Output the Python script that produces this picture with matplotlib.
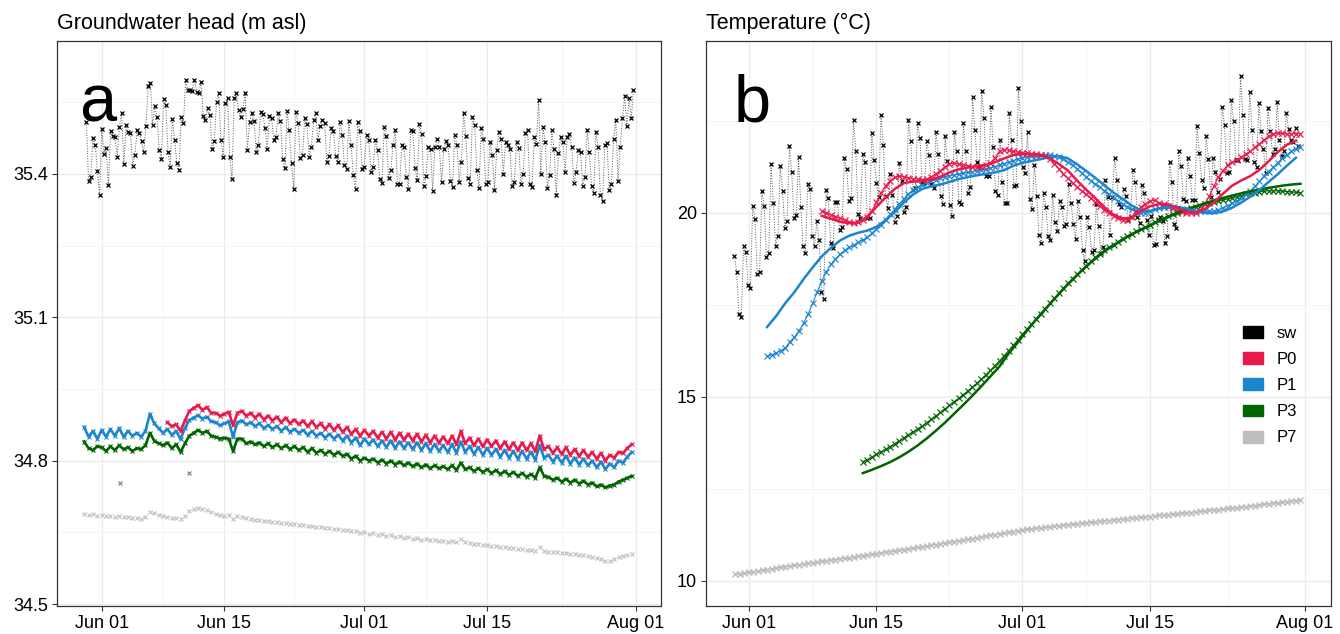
import pandas as pd
import matplotlib
matplotlib.use("Agg")
import matplotlib.pyplot as plt
import matplotlib.dates as mdates
from matplotlib.patches import Patch

plt.rcParams["font.family"] = ["Liberation Sans", "DejaVu Sans"]

# ── Colours ───────────────────────────────────────────────────────────────────
COLORS = {"sw": "black", "P0": "#E8194B", "P1": "#1B85CF", "P3": "#006400", "P7": "#BEBEBE"}
LEGEND_KEYS = ["sw", "P0", "P1", "P3", "P7"]

# ── Data: groundwater head (m asl) ────────────────────────────────────────────
# surface water, 6-hourly
sw_head = [
    35.508, 35.386, 35.393, 35.476, 35.461, 35.407, 35.356, 35.493, 35.441, 35.454,
    35.376, 35.490, 35.479, 35.478, 35.436, 35.499, 35.527, 35.421, 35.502, 35.488,
    35.485, 35.417, 35.440, 35.491, 35.486, 35.468, 35.445, 35.500, 35.583, 35.590,
    35.502, 35.541, 35.520, 35.450, 35.432, 35.556, 35.544, 35.446, 35.415, 35.515,
    35.471, 35.422, 35.408, 35.520, 35.506, 35.597, 35.576, 35.576, 35.574, 35.597,
    35.572, 35.569, 35.593, 35.521, 35.512, 35.537, 35.523, 35.452, 35.469, 35.551,
    35.569, 35.471, 35.436, 35.548, 35.558, 35.436, 35.389, 35.559, 35.569, 35.534,
    35.519, 35.535, 35.570, 35.449, 35.509, 35.527, 35.510, 35.446, 35.461, 35.530,
    35.526, 35.496, 35.452, 35.521, 35.516, 35.471, 35.478, 35.527, 35.510, 35.431,
    35.413, 35.532, 35.491, 35.422, 35.368, 35.530, 35.507, 35.433, 35.440, 35.516,
    35.505, 35.436, 35.456, 35.512, 35.527, 35.471, 35.500, 35.513, 35.506, 35.425,
    35.438, 35.497, 35.489, 35.438, 35.424, 35.509, 35.481, 35.418, 35.411, 35.510,
    35.461, 35.397, 35.368, 35.509, 35.489, 35.410, 35.415, 35.482, 35.470, 35.404,
    35.415, 35.470, 35.450, 35.389, 35.380, 35.498, 35.479, 35.391, 35.408, 35.461,
    35.491, 35.379, 35.379, 35.461, 35.456, 35.394, 35.368, 35.491, 35.489, 35.413,
    35.387, 35.504, 35.484, 35.374, 35.396, 35.456, 35.453, 35.365, 35.456, 35.473,
    35.456, 35.382, 35.453, 35.469, 35.460, 35.386, 35.372, 35.482, 35.461, 35.382,
    35.425, 35.527, 35.479, 35.391, 35.379, 35.520, 35.502, 35.408, 35.371, 35.497,
    35.474, 35.379, 35.382, 35.466, 35.440, 35.367, 35.449, 35.488, 35.474, 35.399,
    35.467, 35.460, 35.453, 35.374, 35.383, 35.466, 35.454, 35.378, 35.399, 35.485,
    35.492, 35.378, 35.372, 35.477, 35.463, 35.555, 35.399, 35.498, 35.466, 35.371,
    35.397, 35.491, 35.452, 35.356, 35.443, 35.477, 35.467, 35.403, 35.477, 35.484,
    35.457, 35.380, 35.404, 35.449, 35.445, 35.375, 35.394, 35.492, 35.445, 35.374,
    35.361, 35.488, 35.456, 35.356, 35.343, 35.460, 35.464, 35.367, 35.379, 35.473,
    35.513, 35.386, 35.457, 35.517, 35.562, 35.500, 35.558, 35.516, 35.576,
]
sw_head_span = ("2021-05-30 06:00", "2021-07-31 17:00")

# piezometers, twice daily
p0_head_start = "2021-06-08 12:00"
p0_head = [
    34.880,
    34.872, 34.876, 34.862, 34.884, 34.904, 34.910, 34.916, 34.906, 34.912, 34.900,
    34.900, 34.894, 34.898, 34.902, 34.874, 34.900, 34.904, 34.894, 34.900, 34.890,
    34.898, 34.886, 34.894, 34.884, 34.892, 34.880, 34.890, 34.878, 34.886, 34.876,
    34.884, 34.872, 34.882, 34.870, 34.878, 34.866, 34.876, 34.864, 34.874, 34.860,
    34.870, 34.856, 34.866, 34.852, 34.864, 34.852, 34.862, 34.848, 34.860, 34.846,
    34.860, 34.844, 34.858, 34.844, 34.856, 34.842, 34.856, 34.840, 34.854, 34.838,
    34.852, 34.838, 34.850, 34.836, 34.852, 34.834, 34.862, 34.836, 34.848, 34.832,
    34.846, 34.830, 34.844, 34.830, 34.842, 34.826, 34.840, 34.824, 34.838, 34.822,
    34.838, 34.822, 34.836, 34.820, 34.852, 34.824, 34.830, 34.816, 34.828, 34.814,
    34.828, 34.812, 34.824, 34.810, 34.822, 34.808, 34.818, 34.804, 34.816, 34.800,
    34.812, 34.806, 34.818, 34.816, 34.826, 34.834,
]
p1_head_start = "2021-05-30 00:00"
p1_head = [
    34.870, 34.850, 34.862, 34.846, 34.864, 34.850, 34.866, 34.852, 34.868, 34.850,
    34.862, 34.852, 34.858, 34.850, 34.862, 34.898, 34.878, 34.868, 34.858, 34.866,
    34.854, 34.862, 34.845, 34.868, 34.885, 34.890, 34.895, 34.888, 34.892, 34.882,
    34.880, 34.874, 34.878, 34.882, 34.850, 34.880, 34.884, 34.876, 34.880, 34.872,
    34.878, 34.868, 34.874, 34.866, 34.872, 34.862, 34.870, 34.860, 34.866, 34.858,
    34.864, 34.854, 34.862, 34.852, 34.858, 34.848, 34.856, 34.846, 34.854, 34.842,
    34.852, 34.838, 34.848, 34.832, 34.846, 34.834, 34.844, 34.830, 34.842, 34.828,
    34.842, 34.826, 34.840, 34.826, 34.838, 34.824, 34.838, 34.822, 34.836, 34.820,
    34.834, 34.820, 34.832, 34.818, 34.834, 34.816, 34.840, 34.818, 34.830, 34.814,
    34.828, 34.812, 34.826, 34.812, 34.824, 34.808, 34.822, 34.806, 34.820, 34.804,
    34.820, 34.804, 34.818, 34.802, 34.832, 34.806, 34.812, 34.798, 34.810, 34.796,
    34.810, 34.794, 34.806, 34.792, 34.804, 34.790, 34.800, 34.786, 34.798, 34.782,
    34.794, 34.786, 34.800, 34.796, 34.808, 34.818,
]
p3_head_start = "2021-05-30 00:00"
p3_head = [
    34.840, 34.826, 34.822, 34.830, 34.828, 34.820, 34.830, 34.822, 34.832, 34.824,
    34.828, 34.820, 34.826, 34.824, 34.832, 34.858, 34.842, 34.836, 34.832, 34.838,
    34.826, 34.834, 34.818, 34.836, 34.852, 34.858, 34.864, 34.858, 34.862, 34.852,
    34.850, 34.846, 34.848, 34.846, 34.820, 34.846, 34.846, 34.836, 34.840, 34.834,
    34.838, 34.830, 34.836, 34.828, 34.834, 34.826, 34.832, 34.824, 34.830, 34.822,
    34.828, 34.818, 34.826, 34.816, 34.822, 34.814, 34.820, 34.812, 34.818, 34.810,
    34.814, 34.804, 34.810, 34.800, 34.806, 34.800, 34.804, 34.796, 34.802, 34.794,
    34.800, 34.792, 34.798, 34.790, 34.796, 34.788, 34.794, 34.786, 34.792, 34.784,
    34.790, 34.784, 34.788, 34.782, 34.790, 34.780, 34.796, 34.782, 34.786, 34.778,
    34.784, 34.776, 34.782, 34.774, 34.780, 34.772, 34.778, 34.770, 34.776, 34.768,
    34.774, 34.766, 34.772, 34.764, 34.786, 34.768, 34.766, 34.760, 34.764, 34.756,
    34.762, 34.754, 34.760, 34.752, 34.758, 34.750, 34.754, 34.746, 34.750, 34.744,
    34.748, 34.750, 34.756, 34.760, 34.764, 34.768,
]
p7_head_start = "2021-05-30 00:00"
p7_head = [
    34.689, 34.686, 34.688, 34.684, 34.686, 34.684, 34.685, 34.683, 34.684, 34.682,
    34.683, 34.680, 34.681, 34.678, 34.682, 34.692, 34.690, 34.686, 34.684, 34.682,
    34.681, 34.680, 34.678, 34.684, 34.694, 34.698, 34.700, 34.698, 34.696, 34.692,
    34.689, 34.686, 34.684, 34.686, 34.678, 34.684, 34.682, 34.680, 34.678, 34.676,
    34.676, 34.674, 34.674, 34.672, 34.672, 34.670, 34.670, 34.668, 34.668, 34.666,
    34.666, 34.664, 34.664, 34.662, 34.662, 34.660, 34.660, 34.658, 34.658, 34.655,
    34.655, 34.652, 34.652, 34.649, 34.650, 34.647, 34.648, 34.645, 34.646, 34.643,
    34.644, 34.641, 34.642, 34.639, 34.640, 34.637, 34.638, 34.635, 34.636, 34.634,
    34.635, 34.632, 34.633, 34.630, 34.632, 34.630, 34.636, 34.629, 34.628, 34.626,
    34.626, 34.624, 34.624, 34.622, 34.622, 34.620, 34.620, 34.618, 34.618, 34.616,
    34.616, 34.614, 34.614, 34.612, 34.620, 34.612, 34.610, 34.608, 34.608, 34.606,
    34.606, 34.604, 34.604, 34.602, 34.602, 34.600, 34.598, 34.596, 34.594, 34.590,
    34.590, 34.594, 34.598, 34.600, 34.602, 34.604,
]
# two stray readings
stray_head_time = ["2021-06-03 01:00", "2021-06-10 22:00"]
stray_head = [34.754, 34.774]

# ── Data: temperature (°C) ────────────────────────────────────────────────────
sw_temp = [
    18.83, 18.39, 17.26, 17.16, 19.10, 18.95, 18.03, 17.95, 20.19, 19.84,
    18.33, 18.40, 20.60, 20.20, 18.79, 18.92, 21.32, 20.28, 19.09, 19.36,
    21.28, 20.60, 19.59, 19.77, 21.83, 21.11, 19.85, 19.93, 21.51, 20.16,
    19.09, 18.90, 20.79, 20.65, 19.38, 19.09, 19.77, 19.26, 17.86, 17.66,
    20.63, 20.41, 19.18, 19.04, 20.29, 20.29, 19.54, 19.61, 21.49, 21.20,
    20.32, 20.40, 22.53, 21.67, 19.96, 19.86, 21.59, 21.37, 19.86, 19.86,
    22.17, 21.44, 20.82, 20.43, 22.66, 21.84, 20.46, 20.14, 21.05, 20.49,
    19.76, 19.92, 21.35, 20.88, 20.02, 20.17, 22.52, 21.95, 20.63, 20.67,
    22.43, 22.03, 20.82, 20.81, 21.94, 21.56, 20.79, 20.68, 22.20, 21.60,
    20.46, 20.24, 22.08, 21.40, 20.22, 19.92, 22.20, 21.68, 20.30, 20.24,
    22.44, 21.68, 20.54, 20.69, 23.16, 22.24, 21.39, 21.24, 23.32, 22.58,
    21.01, 21.00, 22.87, 21.78, 20.59, 20.49, 21.97, 20.83,
    20.26, 20.28, 22.71, 21.97, 20.72, 20.75, 23.39, 22.50, 21.24, 21.08,
    22.21, 20.37, 20.10, 21.31, 20.47, 19.40, 19.18, 20.55, 20.16, 19.36,
    19.26, 20.48, 19.74, 19.52, 20.31, 20.17, 19.65, 19.70, 20.78, 20.26,
    19.70, 19.29, 20.31, 19.90, 18.98, 18.68, 19.90, 19.61, 18.95, 18.98,
    20.24, 19.65, 18.90, 19.07, 20.90, 20.44, 19.40, 20.43, 21.49, 20.90,
    20.24, 20.17, 20.64, 20.47, 19.80, 19.90, 21.17, 20.85, 19.90, 19.72,
    20.77, 20.53, 19.81, 19.39, 19.92, 19.13, 19.15, 19.81, 19.88, 19.77,
    19.18, 19.36, 21.38, 20.85, 19.70, 19.58, 21.69, 21.28, 20.39, 20.31,
    21.49, 20.99, 20.34, 20.35, 22.37, 21.62, 20.90, 20.67, 22.09, 21.46,
    20.43, 21.49, 21.12, 20.58, 20.91, 22.89, 22.39, 21.08, 21.12, 23.07,
    22.49, 21.44, 21.44, 23.72, 22.65, 21.46, 21.44, 23.28, 22.26, 21.39,
    21.26, 22.98, 22.23, 21.73, 21.08, 22.86, 22.23, 21.59, 21.73, 23.00,
    21.97, 21.55, 21.69, 22.71, 22.27, 21.97, 21.93, 22.30, 21.82,
]
sw_temp_span = ("2021-05-30 10:00", "2021-07-31 05:00")

# observed, twice daily
p0_temp_obs_start = "2021-06-09 00:00"
p0_temp_obs = [
    20.05, 20.00, 19.95, 19.90, 19.85, 19.81, 19.76, 19.72, 19.74, 19.80,
    19.88, 20.05, 20.30, 20.55, 20.74, 20.88, 20.97, 21.00, 20.98, 20.95,
    20.93, 20.91, 20.90, 20.92, 20.98, 21.06, 21.15, 21.25, 21.33, 21.35,
    21.32, 21.30, 21.28, 21.26, 21.24, 21.26, 21.30, 21.36, 21.50, 21.68,
    21.72, 21.70, 21.67, 21.65, 21.63, 21.62, 21.61, 21.60, 21.58, 21.55,
    21.46, 21.34, 21.20, 21.06, 20.94, 20.82, 20.70, 20.60, 20.50, 20.40,
    20.29, 20.19, 20.09, 20.00, 19.92, 19.85, 19.81, 19.80, 19.88, 20.04,
    20.16, 20.25, 20.32, 20.34, 20.28, 20.23, 20.18, 20.12, 20.06, 20.03,
    20.00, 19.99, 20.01, 20.08, 20.24, 20.45, 20.72, 20.98, 21.15, 21.30,
    21.38, 21.44, 21.52, 21.60, 21.67, 21.78, 21.88, 21.98, 22.08, 22.15,
    22.16, 22.16, 22.15, 22.15, 22.15, 22.15,
]
p1_temp_obs_start = "2021-06-03 00:00"
p1_temp_obs = [
    16.10, 16.14, 16.20, 16.26, 16.33, 16.50, 16.62, 16.80, 17.00, 17.25,
    17.55, 17.85, 18.15, 18.40, 18.60, 18.75, 18.88, 18.98, 19.06, 19.12,
    19.20, 19.26, 19.34, 19.45, 19.56, 19.68, 19.82, 19.96, 20.10, 20.24,
    20.38, 20.52, 20.62, 20.70, 20.76, 20.82, 20.86, 20.90, 20.94, 20.98,
    21.01, 21.03, 21.05, 21.08, 21.10, 21.12, 21.14, 21.16, 21.19, 21.22,
    21.26, 21.30, 21.34, 21.38, 21.42, 21.46, 21.49, 21.52, 21.54, 21.55,
    21.56, 21.56, 21.56, 21.55, 21.52, 21.46, 21.38, 21.30, 21.20, 21.08,
    20.98, 20.88, 20.78, 20.70, 20.60, 20.50, 20.40, 20.32, 20.24, 20.16,
    20.10, 20.05, 20.01, 20.00, 20.04, 20.10, 20.13, 20.15, 20.17, 20.17,
    20.14, 20.10, 20.08, 20.06, 20.04, 20.04, 20.04, 20.04, 20.05, 20.08,
    20.14, 20.20, 20.26, 20.32, 20.40, 20.50, 20.60, 20.72, 20.86, 21.00,
    21.12, 21.24, 21.36, 21.48, 21.58, 21.67, 21.74, 21.80,
]
p3_temp_obs_start = "2021-06-13 12:00"
p3_temp_obs = [
    13.24, 13.30, 13.37, 13.44, 13.51, 13.58, 13.65, 13.73, 13.81, 13.89,
    13.97, 14.05, 14.13, 14.21, 14.30, 14.39, 14.48, 14.58, 14.67, 14.77,
    14.87, 14.96, 15.06, 15.16, 15.26, 15.37, 15.48, 15.60, 15.72, 15.85,
    15.98, 16.12, 16.26, 16.40, 16.55, 16.70, 16.84, 16.98, 17.12, 17.26,
    17.40, 17.54, 17.68, 17.82, 17.96, 18.09, 18.21, 18.33, 18.45, 18.57,
    18.68, 18.79, 18.89, 18.98, 19.06, 19.14, 19.22, 19.30, 19.37, 19.44,
    19.50, 19.56, 19.62, 19.68, 19.74, 19.80, 19.86, 19.91, 19.96, 20.00,
    20.04, 20.08, 20.12, 20.16, 20.20, 20.23, 20.26, 20.29, 20.32, 20.35,
    20.38, 20.41, 20.44, 20.47, 20.50, 20.53, 20.55, 20.57, 20.59, 20.60,
    20.60, 20.60, 20.59, 20.58, 20.57, 20.56, 20.55,
]
p7_temp_start = "2021-05-30 12:00"
p7_temp = [
    10.19, 10.20, 10.22, 10.24, 10.25, 10.27, 10.29, 10.31, 10.33, 10.35,
    10.37, 10.39, 10.41, 10.43, 10.44, 10.46, 10.48, 10.50, 10.51, 10.53,
    10.55, 10.57, 10.58, 10.60, 10.62, 10.63, 10.65, 10.67, 10.69, 10.71,
    10.72, 10.74, 10.76, 10.78, 10.80, 10.82, 10.83, 10.85, 10.87, 10.89,
    10.91, 10.93, 10.95, 10.97, 10.99, 11.01, 11.03, 11.05, 11.07, 11.09,
    11.11, 11.13, 11.15, 11.17, 11.19, 11.22, 11.24, 11.26, 11.28, 11.30,
    11.32, 11.34, 11.36, 11.38, 11.40, 11.41, 11.43, 11.44, 11.46, 11.47,
    11.49, 11.50, 11.51, 11.53, 11.54, 11.55, 11.57, 11.58, 11.59, 11.61,
    11.62, 11.63, 11.64, 11.66, 11.67, 11.68, 11.69, 11.71, 11.72, 11.73,
    11.74, 11.75, 11.77, 11.78, 11.79, 11.80, 11.81, 11.83, 11.84, 11.85,
    11.86, 11.88, 11.89, 11.90, 11.92, 11.93, 11.94, 11.95, 11.97, 11.98,
    11.99, 12.01, 12.02, 12.03, 12.05, 12.06, 12.08, 12.09, 12.11, 12.12,
    12.14, 12.15, 12.17, 12.18, 12.20,
]

# simulated, daily
p0_temp_sim_start = "2021-06-09 00:00"
p0_temp_sim = [
    19.92, 19.84, 19.76, 19.72, 19.74, 19.90, 20.17, 20.42, 20.65, 20.81,
    20.85, 20.86, 20.90, 20.98, 21.10, 21.18, 21.23, 21.28, 21.30, 21.38,
    21.48, 21.57, 21.60, 21.60, 21.57, 21.48, 21.33, 21.15, 20.88, 20.63,
    20.40, 20.15, 19.95, 19.85, 19.86, 20.05, 20.18, 20.24, 20.23, 20.14,
    20.04, 20.00, 20.10, 20.28, 20.52, 20.74, 20.88, 21.00, 21.17, 21.40,
    21.65, 21.85, 21.96,
]
p1_temp_sim_start = "2021-06-03 00:00"
p1_temp_sim = [
    16.90, 17.20, 17.55, 17.85, 18.20, 18.52, 18.82, 19.05, 19.25, 19.38,
    19.46, 19.52, 19.62, 19.80, 20.02, 20.28, 20.50, 20.65, 20.72, 20.77,
    20.84, 20.92, 20.97, 21.02, 21.06, 21.10, 21.16, 21.28, 21.36, 21.41,
    21.46, 21.52, 21.54, 21.48, 21.32, 21.14, 20.95, 20.75, 20.55, 20.38,
    20.20, 20.07, 20.05, 20.12, 20.16, 20.16, 20.12, 20.04, 20.00, 19.99,
    20.04, 20.14, 20.28, 20.44, 20.62, 20.84, 21.05, 21.28, 21.50,
]
p3_temp_sim_start = "2021-06-13 12:00"
p3_temp_sim = [
    12.93, 13.02, 13.12, 13.23, 13.36, 13.51, 13.68, 13.87, 14.08, 14.30,
    14.54, 14.78, 15.03, 15.29, 15.56, 15.83, 16.18, 16.48, 16.80, 17.10,
    17.38, 17.66, 17.93, 18.19, 18.43, 18.65, 18.86, 19.04, 19.20, 19.35,
    19.48, 19.60, 19.72, 19.84, 19.95, 20.05, 20.14, 20.22, 20.30, 20.37,
    20.44, 20.50, 20.56, 20.61, 20.66, 20.70, 20.74, 20.77, 20.79,
]

# ── Axis settings ─────────────────────────────────────────────────────────────
MAJOR_DATES = ["2021-06-01", "2021-06-15", "2021-07-01", "2021-07-15", "2021-08-01"]
MINOR_DATES = ["2021-06-08", "2021-06-23", "2021-07-08", "2021-07-23 12:00"]
DAY0 = pd.Timestamp("2021-06-01")


def span_times(span, n):
    return pd.date_range(span[0], span[1], periods=n)


def step_times(start, n, freq):
    return pd.date_range(start, periods=n, freq=freq)


def style_axes(ax, xlim_days, ylim, yticks, yminor):
    ax.set_xlim(DAY0 + pd.Timedelta(days=xlim_days[0]), DAY0 + pd.Timedelta(days=xlim_days[1]))
    ax.set_ylim(*ylim)
    ax.set_xticks([mdates.date2num(pd.Timestamp(d)) for d in MAJOR_DATES])
    ax.set_xticks([mdates.date2num(pd.Timestamp(d)) for d in MINOR_DATES], minor=True)
    ax.xaxis.set_major_formatter(mdates.DateFormatter("%b %d"))
    ax.set_yticks(yticks)
    ax.set_yticks(yminor, minor=True)
    ax.grid(which="major", color="#EBEBEB", lw=1.0)
    ax.grid(which="minor", color="#F3F3F3", lw=0.6)
    ax.set_axisbelow(True)
    ax.tick_params(which="major", length=3.5, width=0.8, color="#333333",
                   labelsize=13, labelcolor="black", pad=3)
    ax.tick_params(which="minor", length=0)
    for sp in ax.spines.values():
        sp.set_color("#333333")
        sp.set_linewidth(0.9)


fig = plt.figure(figsize=(13.4, 6.34), dpi=100)
ax_a = fig.add_axes([57 / 1340, 28 / 634, 604 / 1340, 565 / 634])
ax_b = fig.add_axes([706 / 1340, 28 / 634, 625 / 1340, 565 / 634])

# ── Panel a: head ─────────────────────────────────────────────────────────────
ax_a.plot(span_times(sw_head_span, len(sw_head)), sw_head, ls=":", lw=0.7, color="#555555",
          marker="x", ms=3.2, mew=0.9, mec="black", zorder=3)
ax_a.plot(step_times(p7_head_start, len(p7_head), "12h"), p7_head, ls="none",
          marker="x", ms=3.4, mew=0.8, color=COLORS["P7"], zorder=3)
ax_a.plot(pd.to_datetime(stray_head_time), stray_head, ls="none",
          marker="x", ms=3.4, mew=0.9, color="#8A8A8A", zorder=3)
for key, start, vals in [("P3", p3_head_start, p3_head),
                         ("P1", p1_head_start, p1_head),
                         ("P0", p0_head_start, p0_head)]:
    ax_a.plot(step_times(start, len(vals), "12h"), vals, color=COLORS[key], lw=1.9,
              marker="x", ms=3.3, mew=0.8, zorder=4)

style_axes(ax_a, (-5.1, 63.85), (34.496, 35.678),
           [34.5, 34.8, 35.1, 35.4], [34.65, 34.95, 35.25, 35.55])
ax_a.set_yticklabels(["34.5", "34.8", "35.1", "35.4"])
ax_a.text(0, 1.021, "Groundwater head (m asl)", transform=ax_a.transAxes,
          fontsize=15.5, ha="left", va="baseline")
ax_a.text(0.036, 0.858, "a", transform=ax_a.transAxes, fontsize=48,
          ha="left", va="baseline")

# ── Panel b: temperature ──────────────────────────────────────────────────────
ax_b.plot(span_times(sw_temp_span, len(sw_temp)), sw_temp, ls=":", lw=0.7, color="#555555",
          marker="x", ms=3.2, mew=0.9, mec="black", zorder=3)
ax_b.plot(step_times(p7_temp_start, len(p7_temp), "12h"), p7_temp, color=COLORS["P7"],
          lw=1.2, marker="x", ms=4.0, mew=1.0, zorder=3)
for key, start, vals in [("P3", p3_temp_obs_start, p3_temp_obs),
                         ("P1", p1_temp_obs_start, p1_temp_obs),
                         ("P0", p0_temp_obs_start, p0_temp_obs)]:
    ax_b.plot(step_times(start, len(vals), "12h"), vals, color=COLORS[key], lw=0.8,
              marker="x", ms=3.8, mew=0.85, zorder=4)
for key, start, vals in [("P3", p3_temp_sim_start, p3_temp_sim),
                         ("P1", p1_temp_sim_start, p1_temp_sim),
                         ("P0", p0_temp_sim_start, p0_temp_sim)]:
    ax_b.plot(step_times(start, len(vals), "1D"), vals, color=COLORS[key], lw=1.8, zorder=5)

style_axes(ax_b, (-4.7, 63.85), (9.32, 24.67), [10, 15, 20], [12.5, 17.5, 22.5])
ax_b.text(0, 1.021, "Temperature (°C)", transform=ax_b.transAxes,
          fontsize=15.5, ha="left", va="baseline")
ax_b.text(0.044, 0.858, "b", transform=ax_b.transAxes, fontsize=48,
          ha="left", va="baseline")

handles = [Patch(facecolor=COLORS[k], edgecolor=COLORS[k]) for k in LEGEND_KEYS]
ax_b.legend(handles, LEGEND_KEYS, loc="center left", bbox_to_anchor=(0.835, 0.39),
            frameon=False, fontsize=12, handlelength=1.2, handleheight=0.72,
            labelspacing=0.67, handletextpad=0.8)

fig.savefig("out.png", dpi=100)
